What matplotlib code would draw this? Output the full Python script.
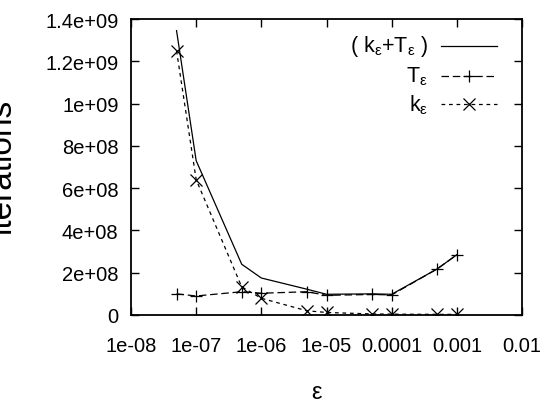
import matplotlib
matplotlib.use("Agg")
import matplotlib.pyplot as plt
import numpy as np

# values
eps = [5e-8, 1e-7, 5e-7, 1e-6, 5e-6, 1e-5, 5e-5, 1e-4, 5e-4, 1e-3]
total = [1.345e9, 7.3e8, 2.4e8, 1.75e8, 1.22e8, 0.98e8, 1.0e8, 0.98e8, 2.18e8, 2.85e8]
t_eps = [1.0e8, 0.9e8, 1.1e8, 1.03e8, 1.1e8, 0.93e8, 0.97e8, 0.95e8, 2.18e8, 2.85e8]
k_eps = [1.25e9, 6.4e8, 1.33e8, 0.79e8, 0.2e8, 0.12e8, 0.05e8, 0.04e8, 0.03e8, 0.03e8]

xticks = [1e-8, 1e-7, 1e-6, 1e-5, 1e-4, 1e-3, 1e-2]
xlabels = ['1e-08', '1e-07', '1e-06', '1e-05', '0.0001', '0.001', '0.01']
yticks = [0, 2e8, 4e8, 6e8, 8e8, 1e9, 1.2e9, 1.4e9]
ylabels = ['0', '2e+08', '4e+08', '6e+08', '8e+08', '1e+09', '1.2e+09', '1.4e+09']

FONT = ['Liberation Sans', 'DejaVu Sans']
plt.rcParams['font.family'] = FONT
plt.rcParams['mathtext.fontset'] = 'custom'
plt.rcParams['mathtext.rm'] = 'Liberation Sans'
plt.rcParams['mathtext.it'] = 'Liberation Sans'

fig = plt.figure(figsize=(5.44, 4.06), dpi=100)
ax = fig.add_axes([131/544, 90/406, 391/544, 296/406])

ax.plot(eps, total, color='black', lw=0.9, ls='-')
ax.plot(eps, t_eps, color='black', lw=0.9, ls=(0, (6, 3)),
        marker='+', ms=9, mew=0.9)
ax.plot(eps, k_eps, color='black', lw=0.9, ls=(0, (3, 3)),
        marker='x', ms=8, mew=0.9)

ax.set_xscale('log')
ax.set_xlim(1e-8, 1e-2)
ax.set_ylim(0, 1.4e9)
ax.set_xticks(xticks)
ax.set_xticklabels(xlabels)
ax.xaxis.set_minor_locator(matplotlib.ticker.LogLocator(base=10, subs=[2, 5, 8]))
ax.xaxis.set_minor_formatter(matplotlib.ticker.NullFormatter())
ax.set_yticks(yticks)
ax.set_yticklabels(ylabels)

ax.tick_params(which='both', direction='in', top=True, right=True, width=1.0)
ax.tick_params(which='major', length=6)
ax.tick_params(which='minor', length=3.6)
ax.tick_params(axis='x', which='major', pad=15, labelsize=14.5)
ax.tick_params(axis='y', which='major', pad=9, labelsize=14.5)
for s in ax.spines.values():
    s.set_linewidth(1.3)

# gnuplot-style key: right-aligned text, sample to the right
key = [
    ('( k$_ε$+T$_ε$ )', '-', None, 0.910),
    ('T$_ε$', (0, (6, 3)), '+', 0.808),
    ('k$_ε$', (0, (3, 3)), 'x', 0.713),
]
for label, ls, mk, yk in key:
    ax.text(0.760, yk, label, transform=ax.transAxes, ha='right',
            va='center', fontsize=15.5)
    ax.plot([0.792, 0.936], [yk, yk], transform=ax.transAxes,
            color='black', lw=0.9, ls=ls)
    if mk:
        ax.plot([0.864], [yk], transform=ax.transAxes, color='black',
                marker=mk, ms=9 if mk == '+' else 8, mew=0.9, ls='none')

fig.text(317/544, 1 - 393/406, 'ε', ha='center', va='center', fontsize=17)
fig.text(17/544, 1 - 165/406, 'iterations', rotation=90, ha='right',
         va='center', fontsize=24)

fig.savefig('out.png', dpi=100)
